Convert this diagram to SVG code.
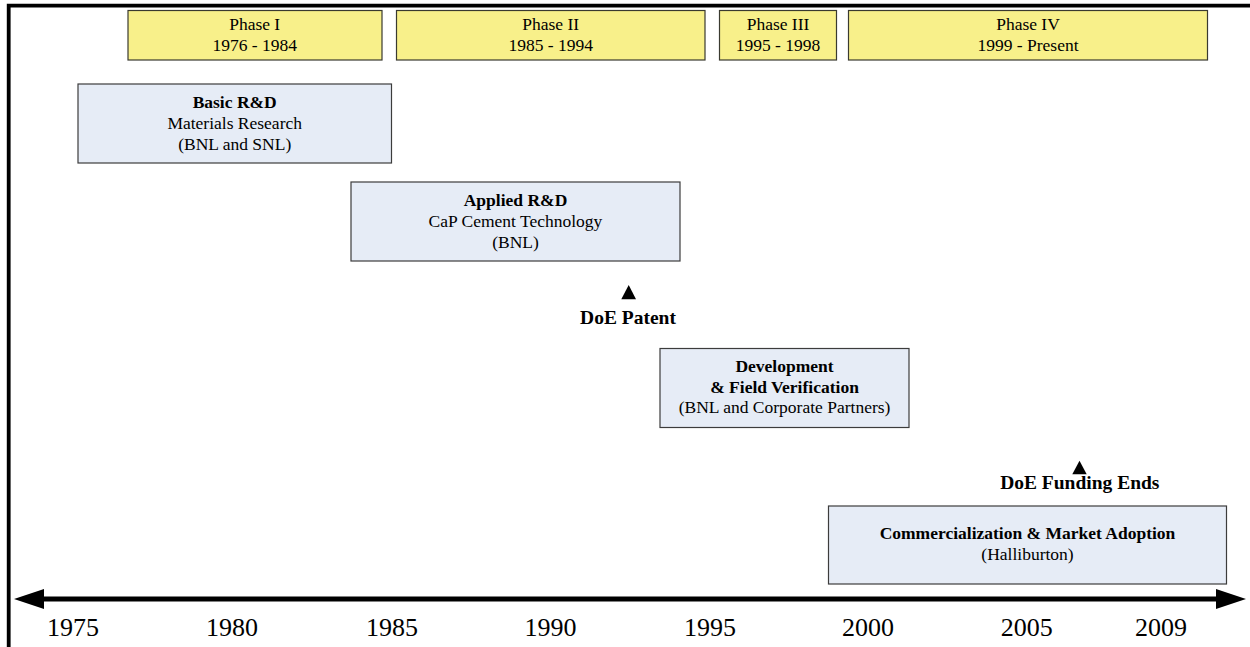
<svg xmlns="http://www.w3.org/2000/svg" width="1250" height="647" viewBox="0 0 1250 647">
<defs>
<style>
.phase{fill:#F8F08A;stroke:#3a3a30;stroke-width:1.2}
.stage{fill:#E6ECF6;stroke:#3c3c3c;stroke-width:1.2}
text{font-family:"Liberation Serif","Times New Roman",serif;fill:#000;text-anchor:middle}
.t{font-size:17.5px}
.b{font-size:17.5px;font-weight:bold}
.m{font-size:19.5px;font-weight:bold}
.yr{font-size:26px}
.mk{fill:#000}
</style>
<marker id="arr" viewBox="0 0 30 20" markerWidth="30" markerHeight="20" refX="0" refY="10" markerUnits="userSpaceOnUse" orient="auto-start-reverse">
<path d="M0,0 L30,10 L0,20 Z" fill="#000"/>
</marker>
</defs>
<rect width="1250" height="647" fill="#fff"/>
<path d="M8.7,647 V5.7 H1250" fill="none" stroke="#000" stroke-width="3.8"/>

<g id="phase1"><rect class="phase" x="128" y="10.5" width="254" height="49.5"/><text class="t" x="254.7" y="30">Phase I</text><text class="t" x="254.7" y="50.7">1976 - 1984</text></g>
<g id="phase2"><rect class="phase" x="396.5" y="10.5" width="308.5" height="49.5"/><text class="t" x="550.7" y="30">Phase II</text><text class="t" x="550.7" y="50.7">1985 - 1994</text></g>
<g id="phase3"><rect class="phase" x="719.5" y="10.5" width="117" height="49.5"/><text class="t" x="778" y="30">Phase III</text><text class="t" x="778" y="50.7">1995 - 1998</text></g>
<g id="phase4"><rect class="phase" x="848.5" y="10.5" width="359" height="49.5"/><text class="t" x="1028" y="30">Phase IV</text><text class="t" x="1028" y="50.7">1999 - Present</text></g>

<g id="basic"><rect class="stage" x="78" y="84" width="313.5" height="79"/><text class="b" x="234.7" y="108.3">Basic R&amp;D</text><text class="t" x="234.7" y="129.3">Materials Research</text><text class="t" x="234.7" y="150.3">(BNL and SNL)</text></g>
<g id="applied"><rect class="stage" x="351" y="182" width="329" height="79"/><text class="b" x="515.5" y="205.7">Applied R&amp;D</text><text class="t" x="515.5" y="226.7">CaP Cement Technology</text><text class="t" x="515.5" y="247.7">(BNL)</text></g>
<g id="patent"><polygon class="mk" points="628.7,285 636,299.3 621.3,299.3"/><text class="m" x="628" y="324">DoE Patent</text></g>
<g id="development"><rect class="stage" x="660" y="348.5" width="249" height="79"/><text class="b" x="784.5" y="371.7">Development</text><text class="b" x="784.5" y="392.7">&amp; Field Verification</text><text class="t" x="784.5" y="413.3">(BNL and Corporate Partners)</text></g>
<g id="funding"><polygon class="mk" points="1079.5,460.7 1086.7,474.3 1072.3,474.3"/><text class="m" x="1079.8" y="489.3">DoE Funding Ends</text></g>
<g id="commercialization"><rect class="stage" x="828.5" y="506" width="398" height="78"/><text class="b" x="1027.5" y="539.3">Commercialization &amp; Market Adoption</text><text class="t" x="1027.5" y="560">(Halliburton)</text></g>

<g id="connectors"><line x1="44" y1="599" x2="1216" y2="599" stroke="#000" stroke-width="5" marker-start="url(#arr)" marker-end="url(#arr)"/></g>

<g id="years">
<text class="yr" x="73" y="636">1975</text>
<text class="yr" x="232" y="636">1980</text>
<text class="yr" x="392" y="636">1985</text>
<text class="yr" x="550.5" y="636">1990</text>
<text class="yr" x="710" y="636">1995</text>
<text class="yr" x="868" y="636">2000</text>
<text class="yr" x="1026.7" y="636">2005</text>
<text class="yr" x="1161" y="636">2009</text>
</g>
</svg>
